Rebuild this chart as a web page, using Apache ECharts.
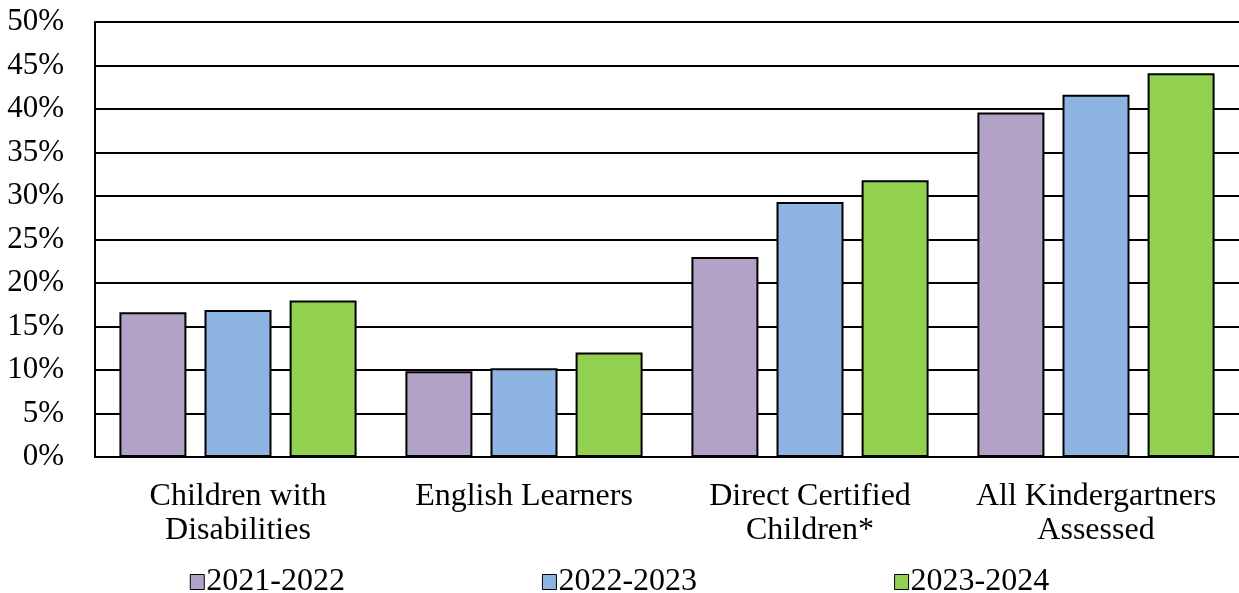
<!DOCTYPE html>
<html>
<head>
<meta charset="utf-8">
<script src="https://cdn.jsdelivr.net/npm/echarts@6/dist/echarts.min.js"></script>
<style>
html,body{margin:0;padding:0;background:#fff;}
#chart{width:1239px;height:593px;}
</style>
</head>
<body>
<div id="chart"></div>
<script>
const categories = ['Children with\nDisabilities', 'English Learners', 'Direct Certified\nChildren*', 'All Kindergartners\nAssessed'];
const seriesNames = ['2021-2022', '2022-2023', '2023-2024'];
const values2122 = [16.65, 9.85, 23.0, 39.6];
const values2223 = [16.9, 10.2, 29.3, 41.65];
const values2324 = [18.0, 12.0, 31.8, 44.1];
const yTicks = {min: 0, max: 50, interval: 5};

const colors = ['#B3A2C7', '#8EB4E3', '#92D050'];
const font = 'Liberation Serif, Times New Roman, serif';
const allValues = [values2122, values2223, values2324];

const chart = echarts.init(document.getElementById('chart'), null, {renderer: 'canvas'});
chart.setOption({
  animation: false,
  backgroundColor: '#fff',
  grid: {left: 95, top: 22, width: 1150, height: 435, containLabel: false},
  legend: {
    data: seriesNames,
    left: 'center',
    top: 561,
    itemGap: 197,
    itemWidth: 14,
    itemHeight: 15,
    icon: 'rect',
    textStyle: {fontFamily: font, fontSize: 32, color: '#000', padding: [0, 0, 0, -3]},
    itemStyle: {borderColor: '#000', borderWidth: 1}
  },
  xAxis: {
    type: 'category',
    data: categories,
    axisTick: {show: false},
    axisLine: {show: true, lineStyle: {color: '#000', width: 2}},
    axisLabel: {
      interval: 0,
      margin: 23,
      fontFamily: font,
      fontSize: 32,
      lineHeight: 34,
      color: '#000'
    }
  },
  yAxis: {
    type: 'value',
    min: yTicks.min,
    max: yTicks.max,
    interval: yTicks.interval,
    axisLine: {show: true, lineStyle: {color: '#000', width: 2}},
    axisTick: {show: false},
    splitLine: {show: true, lineStyle: {color: '#000', width: 2}},
    axisLabel: {
      formatter: '{value}%',
      margin: 31,
      fontFamily: font,
      fontSize: 31,
      color: '#000'
    }
  },
  series: seriesNames.map((name, i) => ({
    name: name,
    type: 'bar',
    data: allValues[i],
    barWidth: 67,
    barGap: '27%',
    itemStyle: {color: colors[i], borderColor: '#000', borderWidth: 2}
  }))
});
</script>
</body>
</html>
